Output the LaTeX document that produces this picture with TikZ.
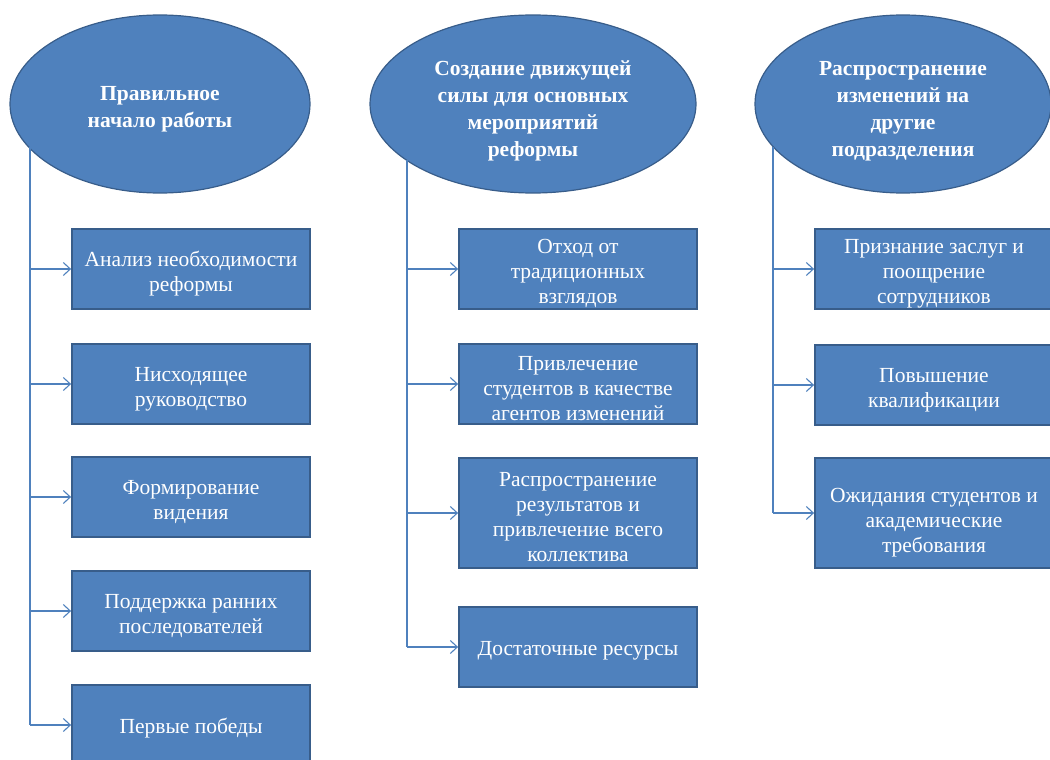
\documentclass[tikz,border=0pt]{standalone}
\usepackage{fontspec}
\setmainfont{Liberation Serif}
\usepackage{xcolor}
\usepackage{tikz}
\usetikzlibrary{arrows.meta}
\usetikzlibrary{shapes.geometric}
\definecolor{boxblue}{HTML}{4F81BD}
\definecolor{edgeblue}{HTML}{385D8A}
\newcommand{\topgap}[1]{\rule{0pt}{#1}}
\tikzset{
    stage/.style={
        ellipse, draw=edgeblue, line width=1.2pt, fill=boxblue,
        text=white, font=\fontsize{21.5}{27}\selectfont\bfseries,
        align=center, inner sep=0pt,
        minimum width=300pt, minimum height=178pt
    },
    task/.style={
        rectangle, draw=edgeblue, line width=1.8pt, fill=boxblue,
        text=white, font=\fontsize{21.5}{25}\selectfont,
        align=center, inner sep=0pt,
        minimum width=238pt, minimum height=80pt
    },
    link/.style={color=boxblue, line width=1.1pt},
    feed/.style={link, -{Straight Barb[length=7pt,width=13pt]}}
}

\begin{document}
\begin{tikzpicture}[x=1pt, y=-1pt]
    \useasboundingbox (0,0) rectangle (1050,760);
    % column 1
    \node[stage] (e1) at (160,104) {\topgap{24pt}Правильное\\начало работы};
    \node[task] (b11) at (191,269) {\topgap{24pt}Анализ необходимости\\реформы};
    \node[task] (b12) at (191,384) {\topgap{24pt}Нисходящее\\руководство};
    \node[task] (b13) at (191,497) {\topgap{24pt}Формирование\\видения};
    \node[task] (b14) at (191,611) {\topgap{24pt}Поддержка ранних\\последователей};
    \node[task] (b15) at (191,725) {\topgap{22pt}Первые победы};
    \coordinate (t1) at (30,147);
    \coordinate (t1end) at (30,725);
    \draw[link] (t1) -- (t1end);
    \draw[feed] (t1 |- b11.west) -- (b11.west);
    \draw[feed] (t1 |- b12.west) -- (b12.west);
    \draw[feed] (t1 |- b13.west) -- (b13.west);
    \draw[feed] (t1 |- b14.west) -- (b14.west);
    \draw[feed] (t1 |- b15.west) -- (b15.west);
    % column 2
    \node[stage, minimum width=326pt] (e2) at (533,104) {\topgap{28pt}Создание движущей\\силы для основных\\мероприятий\\реформы};
    \node[task] (b21) at (578,269) {\topgap{24pt}Отход от\\традиционных\\взглядов};
    \node[task] (b22) at (578,384) {\topgap{24pt}Привлечение\\студентов в качестве\\агентов изменений};
    \node[task, minimum height=110pt] (b23) at (578,513) {\topgap{22pt}Распространение\\результатов и\\привлечение всего\\коллектива};
    \node[task] (b24) at (578,647) {\topgap{22pt}Достаточные ресурсы};
    \coordinate (t2) at (407,160);
    \coordinate (t2end) at (407,647);
    \draw[link] (t2) -- (t2end);
    \draw[feed] (t2 |- b21.west) -- (b21.west);
    \draw[feed] (t2 |- b22.west) -- (b22.west);
    \draw[feed] (t2 |- b23.west) -- (b23.west);
    \draw[feed] (t2 |- b24.west) -- (b24.west);
    % column 3
    \node[stage, minimum width=296pt] (e3) at (903,104) {\topgap{28pt}Распространение\\изменений на\\другие\\подразделения};
    \node[task] (b31) at (934,269) {\topgap{24pt}Признание заслуг и\\поощрение\\сотрудников};
    \node[task] (b32) at (934,385) {\topgap{24pt}Повышение\\квалификации};
    \node[task, minimum height=110pt] (b33) at (934,513) {\topgap{34pt}Ожидания студентов и\\академические\\требования};
    \coordinate (t3) at (773,147);
    \coordinate (t3end) at (773,513);
    \draw[link] (t3) -- (t3end);
    \draw[feed] (t3 |- b31.west) -- (b31.west);
    \draw[feed] (t3 |- b32.west) -- (b32.west);
    \draw[feed] (t3 |- b33.west) -- (b33.west);
\end{tikzpicture}
\end{document}
